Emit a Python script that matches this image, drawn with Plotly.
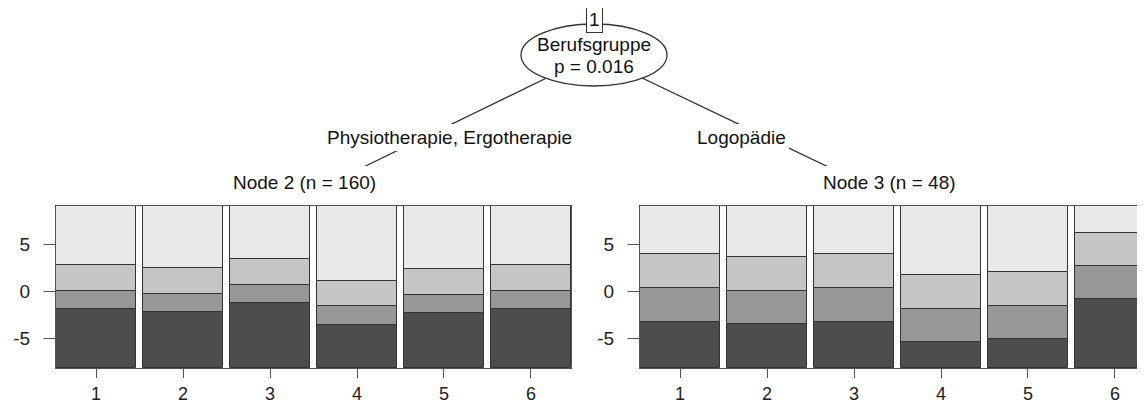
import plotly.graph_objects as go

W, H = 1145, 403

# ---- data (cumulative segment boundaries, bottom to top) ----
categories = [1, 2, 3, 4, 5, 6]
y_min, y_max = -8.2, 9.1
y_ticks = [-5, 0, 5]
y_ticktext = ["-5", "0", "5"]

node2_b1 = [-1.86, -2.21, -1.25, -3.64, -2.32, -1.86]
node2_b2 = [0.05, -0.29, 0.68, -1.61, -0.39, 0.05]
node2_b3 = [2.79, 2.43, 3.39, 1.11, 2.39, 2.79]

node3_b1 = [-3.25, -3.50, -3.29, -5.39, -5.10, -0.82]
node3_b2 = [0.36, 0.00, 0.36, -1.86, -1.54, 2.68]
node3_b3 = [3.93, 3.61, 3.93, 1.75, 2.00, 6.18]

seg_colors = ["#4d4d4d", "#979797", "#c5c5c5", "#e9e9e9"]

split_var = "Berufsgruppe"
split_p = "p = 0.016"
edge_left = "Physiotherapie, Ergotherapie"
edge_right = "Logopädie"
node2_label = "Node 2 (n = 160)"
node3_label = "Node 3 (n = 48)"

FONT = "Liberation Sans, Arial, sans-serif"
FS = 19


def px(x):
    return x / W


def py(y):
    return 1 - y / H


fig = go.Figure()


def add_panel(b1, b2, b3, xa, ya):
    n = len(categories)
    bounds = [[y_min] * n, b1, b2, b3, [y_max] * n]
    for k in range(4):
        lo = bounds[k]
        hi = bounds[k + 1]
        fig.add_trace(go.Bar(
            x=categories, y=[h - l for h, l in zip(hi, lo)], base=lo,
            width=0.92, marker=dict(color=seg_colors[k], line=dict(color="#333333", width=1)),
            xaxis=xa, yaxis=ya, showlegend=False, hoverinfo="skip"))


add_panel(node2_b1, node2_b2, node2_b3, "x", "y")
add_panel(node3_b1, node3_b2, node3_b3, "x2", "y2")

# panel geometry (pixels)
L_x0, L_x1 = 48, 563
R_x0 = 632
P_top, P_bot = 198, 360
x_lo = 0.54
x_hi = 6.46
ppu = (L_x1 - L_x0) / (x_hi - x_lo)
x_hi_r = x_lo + (W - R_x0) / ppu

axis_common = dict(showgrid=False, zeroline=False, ticks="outside",
                   tickcolor="#555555", linecolor="#555555", linewidth=1)
xtickfont = dict(family=FONT, size=18, color="#222222")
ytickfont = dict(family=FONT, size=FS, color="#222222")

fig.update_layout(
    width=W, height=H, margin=dict(l=0, r=0, t=0, b=0),
    paper_bgcolor="white", plot_bgcolor="white", barmode="overlay", bargap=0,
    xaxis=dict(domain=[px(L_x0), px(L_x1)], range=[x_lo, x_hi], tickvals=categories,
               ticklen=9, tickfont=xtickfont,
               showline=True, mirror=True, anchor="y", **axis_common),
    yaxis=dict(domain=[py(P_bot), py(P_top)], range=[y_min, y_max], tickvals=y_ticks,
               ticktext=y_ticktext, ticklen=11, tickfont=ytickfont,
               showline=True, mirror=True, ticklabelstandoff=10, anchor="x", **axis_common),
    xaxis2=dict(domain=[px(R_x0), 1.0], range=[x_lo, x_hi_r], tickvals=categories,
                ticklen=9, tickfont=xtickfont,
                showline=True, mirror=True, anchor="y2", **axis_common),
    yaxis2=dict(domain=[py(P_bot), py(P_top)], range=[y_min, y_max], tickvals=y_ticks,
                ticktext=y_ticktext, ticklen=11, tickfont=ytickfont,
                showline=True, mirror=False, ticklabelstandoff=10, anchor="x2", **axis_common),
)

# ---- tree: edges, root node, labels ----
root = (586, 47)
child_l = (296, 188)
child_r = (881, 188)
for cx, cy in (child_l, child_r):
    fig.add_shape(type="line", xref="paper", yref="paper",
                  x0=px(root[0]), y0=py(root[1]), x1=px(cx), y1=py(cy),
                  line=dict(color="#333333", width=1.3), layer="above")

rx, ry = 73, 31
fig.add_shape(type="circle", xref="paper", yref="paper",
              x0=px(root[0] - rx), x1=px(root[0] + rx), y0=py(root[1] + ry), y1=py(root[1] - ry),
              fillcolor="white", line=dict(color="#333333", width=1.3), layer="above")


def label(text, x, y, bg=True, border=False, pad=3):
    fig.add_annotation(text=text, x=px(x), y=py(y), xref="paper", yref="paper",
                       showarrow=False, xanchor="center", yanchor="middle",
                       font=dict(family=FONT, size=FS, color="#111111"),
                       bgcolor="white" if bg else None,
                       bordercolor="#333333" if border else None,
                       borderwidth=1 if border else 0, borderpad=pad)


label(split_var, root[0], 37, bg=False)
label(split_p, root[0], 59, bg=False)
label("1", root[0], 12, border=True, pad=2)
label(edge_left, 441, 130, pad=3)
label(edge_right, 733, 130, pad=3)
label(node2_label, 296, 174, pad=6)
label(node3_label, 881, 174, pad=6)

fig.write_html("out.html")
